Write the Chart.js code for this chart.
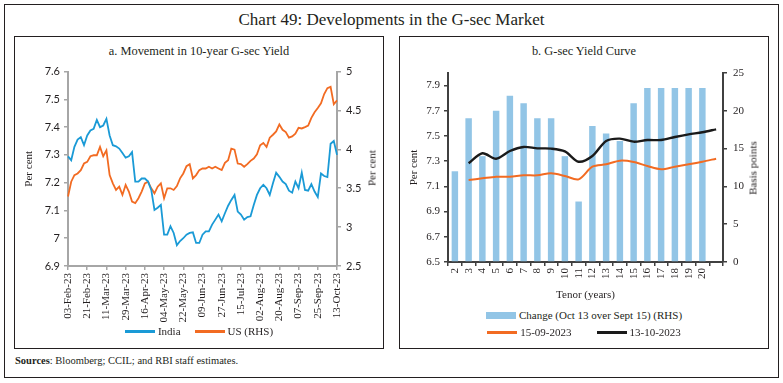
<!DOCTYPE html>
<html><head><meta charset="utf-8">
<script src="https://cdn.jsdelivr.net/npm/chart.js@4.4.0/dist/chart.umd.min.js"></script>
<style>
body{margin:0;background:#fff;width:783px;height:383px;position:relative;overflow:hidden;font-family:"Liberation Serif",serif;color:#231f20}
.box{position:absolute;border:1.5px solid #231f20;box-sizing:border-box}
.ttl{position:absolute;left:0;width:783px;top:9px;text-align:center;font-size:17px;line-height:22px}
.sub{position:absolute;text-align:center;font-size:12.4px;line-height:14px}
.leg{position:absolute;display:flex;justify-content:center;align-items:center;font-size:11px;line-height:13px;height:13px}
.leg .it{display:flex;align-items:center}
.leg .ln{display:inline-block;width:30px;height:3px;margin-right:3px}
.leg .rc{display:inline-block;width:30px;height:7px;margin-right:3px}
.src{position:absolute;left:15px;top:354px;font-size:10.5px;line-height:13px}
.vt{position:absolute;transform:translate(-50%,-50%) rotate(-90deg);white-space:nowrap;font-size:11px;line-height:13px}
canvas{position:absolute}
</style></head>
<body>
<div class="box" style="left:4px;top:4px;width:775px;height:374px"></div>
<div class="ttl">Chart 49: Developments in the G-sec Market</div>
<div class="box" style="left:14px;top:36px;width:370px;height:313px"></div>
<div class="box" style="left:399px;top:36px;width:370px;height:313px"></div>
<div class="sub" style="left:14px;width:370px;top:44px">a. Movement in 10-year G-sec Yield</div>
<div class="sub" style="left:399px;width:370px;top:44px">b. G-sec Yield Curve</div>
<canvas id="ca" width="368" height="270" style="left:15px;top:60px;width:368px;height:270px"></canvas>
<canvas id="cb" width="367" height="242" style="left:400px;top:60px;width:367px;height:242px"></canvas>
<div class="vt" style="left:372px;top:168px">Per cent</div>
<div class="vt" style="left:753px;top:168px">Basis points</div>
<div class="leg" style="left:14px;width:370px;top:325px">
  <span class="it"><span class="ln" style="background:#1a9ad6"></span>India</span>
  <span class="it" style="margin-left:14px"><span class="ln" style="background:#f26b22"></span>US (RHS)</span>
</div>
<div class="leg" style="left:399px;width:370px;top:309px">
  <span class="it"><span class="rc" style="background:#92c5e6"></span>Change (Oct 13 over Sept 15) (RHS)</span>
</div>
<div class="leg" style="left:399px;width:370px;top:326px">
  <span class="it"><span class="ln" style="background:#f26b22"></span>15-09-2023</span>
  <span class="it" style="margin-left:25px"><span class="ln" style="background:#1a1a1a"></span>13-10-2023</span>
</div>
<div class="src"><b>Sources</b>: Bloomberg; CCIL; and RBI staff estimates.</div>
<script>
// ---- Panel a: 10-year G-sec yield (every 3rd calendar day from 03-Feb-23) ----
const startDate = '2023-02-03';
const stepDays = 3;
const tickLabels = ['03-Feb-23','21-Feb-23','11-Mar-23','29-Mar-23','16-Apr-23','04-May-23','22-May-23','09-Jun-23','27-Jun-23','15-Jul-23','02-Aug-23','20-Aug-23','07-Sep-23','25-Sep-23','13-Oct-23'];
const india = [
  7.295,7.281,7.329,7.355,7.364,7.335,7.370,7.388,7.394,7.426,
  7.400,7.406,7.430,7.370,7.335,7.331,7.323,7.307,7.290,7.295,
  7.310,7.204,7.204,7.215,7.215,7.204,7.174,7.102,7.110,7.120,
  7.013,7.013,7.043,7.019,6.975,6.990,7.000,7.013,7.019,7.021,
  6.983,6.983,7.013,7.025,7.025,7.049,7.067,7.085,7.061,7.090,
  7.117,7.138,7.156,7.096,7.085,7.067,7.076,7.079,7.120,7.156,
  7.180,7.192,7.180,7.156,7.198,7.236,7.221,7.204,7.195,7.171,
  7.164,7.204,7.180,7.236,7.174,7.171,7.195,7.168,7.148,7.233,
  7.224,7.220,7.340,7.350,7.300
];
const us = [
  3.393,3.584,3.669,3.690,3.733,3.818,3.839,3.912,3.924,3.924,
  4.031,3.912,3.988,3.669,3.563,3.478,3.520,3.414,3.542,3.457,
  3.329,3.308,3.372,3.457,3.563,3.584,3.499,3.435,3.520,3.563,
  3.372,3.499,3.499,3.478,3.529,3.627,3.690,3.784,3.810,3.627,
  3.669,3.733,3.754,3.754,3.776,3.754,3.776,3.754,3.733,3.827,
  3.861,4.010,3.997,3.818,3.810,3.776,3.810,3.852,3.882,3.937,
  4.052,4.082,4.031,4.150,4.188,4.230,4.320,4.252,4.222,4.150,
  4.167,4.201,4.277,4.269,4.286,4.307,4.405,4.477,4.532,4.592,
  4.711,4.787,4.804,4.580,4.630
];
const leftTicksA = [6.9,7,7.1,7.2,7.3,7.4,7.5,7.6];
const rightTicksA = [2.5,3,3.5,4,4.5,5];

// ---- Panel b: G-sec yield curve ----
const tenors = ['2','3','4','5','6','7','8','9','10','11','12','13','14','15','16','17','18','19','20',''];
const change = [12,19,14,20,22,21,19,19,14,8,18,17,16,21,23,23,23,23,23,null];
const sep15 = [null,7.151,7.164,7.177,7.177,7.188,7.188,7.204,7.183,7.156,7.256,7.275,7.304,7.294,7.262,7.236,7.256,7.275,7.296,7.320];
const oct13 = [null,7.283,7.363,7.320,7.381,7.413,7.402,7.400,7.378,7.296,7.341,7.460,7.479,7.455,7.468,7.468,7.492,7.513,7.530,7.553];
const leftTicksB = [6.5,6.7,6.9,7.1,7.3,7.5,7.7,7.9];
const rightTicksB = [0,5,10,15,20,25];

const MON = ['Jan','Feb','Mar','Apr','May','Jun','Jul','Aug','Sep','Oct','Nov','Dec'];
const t0 = new Date(startDate + 'T00:00:00Z');
const dates = india.map((_, i) => {
  const d = new Date(t0.getTime() + i * stepDays * 86400000);
  return String(d.getUTCDate()).padStart(2,'0') + '-' + MON[d.getUTCMonth()] + '-' + String(d.getUTCFullYear()).slice(2);
});

const serif = 'Liberation Serif';
const ink = '#231f20';
const greyAx = '#a6a6a6';
const darkAx = '#404040';
const fixTicks = arr => s => { s.ticks = arr.map(v => ({value: v})); };

new Chart(document.getElementById('ca'), {
  type: 'line',
  data: { labels: dates, datasets: [
    {label:'India', data: india, borderColor:'#1a9ad6', borderWidth:1.8, pointRadius:0, yAxisID:'y', tension:0},
    {label:'US (RHS)', data: us, borderColor:'#f26b22', borderWidth:1.8, pointRadius:0, yAxisID:'y1', tension:0}
  ]},
  options: {
    responsive:false, animation:false, devicePixelRatio:1,
    layout:{padding:{top:10,left:0,right:0,bottom:0}},
    plugins:{legend:{display:false}, tooltip:{enabled:false}},
    scales:{
      x:{ type:'category', offset:false,
        grid:{display:true, drawOnChartArea:false, drawTicks:true, tickLength:4, color:greyAx, lineWidth:1.5},
        border:{display:true, color:greyAx, width:2},
        ticks:{autoSkip:false, maxRotation:90, minRotation:90, padding:3, color:ink, font:{family:serif, size:11},
          callback:(v,i)=> i%6===0 ? tickLabels[i/6] : null},
        afterFit:s=>{s.height=64;}
      },
      y:{ position:'left', min:6.9, max:7.6, afterBuildTicks: fixTicks(leftTicksA),
        grid:{display:true, drawOnChartArea:false, drawTicks:true, tickLength:4, color:greyAx, lineWidth:1.5},
        border:{display:true, color:greyAx, width:2},
        ticks:{padding:4, color:ink, font:{family:'Lato', size:11}, callback:v=>String(v)},
        title:{display:true, text:'Per cent', color:ink, font:{family:serif, size:11}, padding:{top:8,bottom:0}},
        afterFit:s=>{s.width=53;}
      },
      y1:{ position:'right', min:2.5, max:5, afterBuildTicks: fixTicks(rightTicksA),
        grid:{display:true, drawOnChartArea:false, drawTicks:true, tickLength:4, color:greyAx, lineWidth:1.5},
        border:{display:true, color:greyAx, width:2},
        ticks:{padding:5, color:ink, font:{family:'Lato', size:11}, callback:v=>String(v)},
        afterFit:s=>{s.width=46;}
      }
    }
  }
});

new Chart(document.getElementById('cb'), {
  type: 'bar',
  data: { labels: tenors, datasets: [
    {type:'line', label:'13-10-2023', data: oct13, borderColor:'#1a1a1a', borderWidth:2.4, pointRadius:0, yAxisID:'y', tension:0.3, order:0},
    {type:'line', label:'15-09-2023', data: sep15, borderColor:'#f26b22', borderWidth:2, pointRadius:0, yAxisID:'y', tension:0.3, order:1},
    {type:'bar', label:'Change (Oct 13 over Sept 15) (RHS)', data: change, backgroundColor:'#92c5e6', yAxisID:'y1', barPercentage:0.47, categoryPercentage:1, order:2}
  ]},
  options: {
    responsive:false, animation:false, devicePixelRatio:1,
    layout:{padding:{top:13,left:0,right:0,bottom:0}},
    plugins:{legend:{display:false}, tooltip:{enabled:false}},
    scales:{
      x:{ type:'category', offset:true,
        grid:{display:true, offset:true, drawOnChartArea:false, drawTicks:true, tickLength:4, color:darkAx, lineWidth:1.5},
        border:{display:true, color:darkAx, width:2},
        ticks:{autoSkip:false, maxRotation:90, minRotation:90, padding:2, color:ink, font:{family:serif, size:11}},
        title:{display:true, text:'Tenor (years)', color:ink, font:{family:serif, size:11}, padding:{top:0,bottom:0}},
        afterFit:s=>{s.height=40;}
      },
      y:{ position:'left', min:6.5, max:8.0, afterBuildTicks: fixTicks(leftTicksB),
        grid:{display:true, drawOnChartArea:false, drawTicks:true, tickLength:4, color:darkAx, lineWidth:1.5},
        border:{display:true, color:darkAx, width:2},
        ticks:{padding:4, color:ink, font:{family:serif, size:11}, callback:v=>v.toFixed(1)},
        title:{display:true, text:'Per cent', color:ink, font:{family:serif, size:11}, padding:{top:8,bottom:0}},
        afterFit:s=>{s.width=48;}
      },
      y1:{ position:'right', min:0, max:25, afterBuildTicks: fixTicks(rightTicksB),
        grid:{display:true, drawOnChartArea:false, drawTicks:true, tickLength:4, color:darkAx, lineWidth:1.5},
        border:{display:true, color:darkAx, width:2},
        ticks:{padding:6, color:ink, font:{family:serif, size:11}, callback:v=>String(v)},
        afterFit:s=>{s.width=44;}
      }
    }
  }
});
</script>
</body></html>
